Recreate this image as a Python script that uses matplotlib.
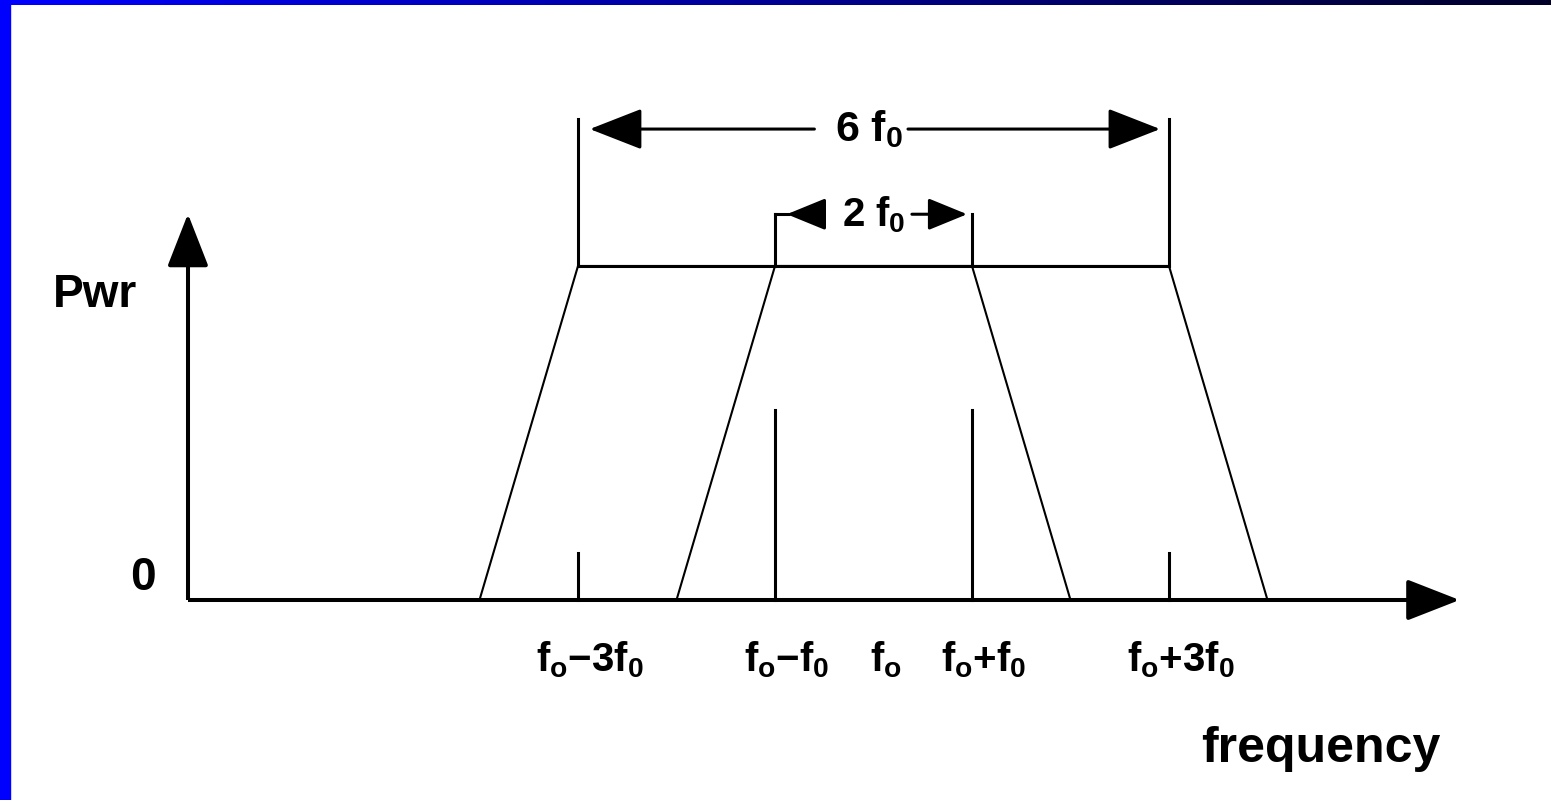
import numpy as np
import matplotlib
matplotlib.use("Agg")
import matplotlib.pyplot as plt

plt.rcParams['font.family'] = ['Liberation Sans', 'DejaVu Sans']
plt.rcParams['font.weight'] = 'bold'
plt.rcParams['mathtext.fontset'] = 'custom'
plt.rcParams['mathtext.rm'] = 'Liberation Sans:bold'
plt.rcParams['mathtext.it'] = 'Liberation Sans:bold'
plt.rcParams['mathtext.bf'] = 'Liberation Sans:bold'

# frequency in units of f0 relative to the carrier, power normalised to the plateau
outer_x = [-4, -3, 3, 4]
outer_y = [0, 1, 1, 0]
inner_x = [-2, -1, 1, 2]
inner_y = [0, 1, 1, 0]
tick_pos = [-3, -1, 0, 1, 3]
tick_height = [0.14, 0.57, 0.0, 0.57, 0.14]
tick_labels = [r'$f_o\mathregular{-}3f_0$', r'$f_o\mathregular{-}f_0$', r'$f_o$',
               r'$f_o\mathregular{+}f_0$', r'$f_o\mathregular{+}3f_0$']
wide_span = (-3, 3)
narrow_span = (-1, 1)
wide_label = r'6 $f_0$'
narrow_label = r'2 $f_0$'

W, H = 1551, 800
fig = plt.figure(figsize=(W / 100, H / 100), dpi=100)
ax = fig.add_axes([0, 0, 1, 1])
ax.set_xlim(-873.5 / 98.5, (W - 873.5) / 98.5)
ax.set_ylim(-200 / 334, 600 / 334)
ax.axis('off')

lw_axis = 2.9
lw_brk = 2.2
fs = 33

big_head = dict(arrowstyle='-|>,head_length=1.1,head_width=0.43',
                mutation_scale=30, color='k', lw=lw_axis, shrinkA=0, shrinkB=0)

# axes with arrows
x0, x_end = -6.96, 5.95
y_top = 1.156
ax.plot([x0, x_end - 0.3], [0, 0], color='k', lw=lw_axis, solid_capstyle='butt')
ax.plot([x0, x0], [0, y_top - 0.1], color='k', lw=lw_axis, solid_capstyle='butt')
ax.annotate('', xy=(x_end, 0), xytext=(x_end - 0.5, 0), arrowprops=big_head)
ax.annotate('', xy=(x0, y_top), xytext=(x0, y_top - 0.15), arrowprops=big_head)

# spectra
ax.plot(outer_x, outer_y, color='k', lw=1.5)
ax.plot(inner_x, inner_y, color='k', lw=1.5)
ax.plot([outer_x[1], outer_x[2]], [1, 1], color='k', lw=lw_brk)

# ticks
for p, h in zip(tick_pos, tick_height):
    if h > 0:
        ax.plot([p, p], [0, h], color='k', lw=lw_brk)

for p, lab in zip(tick_pos, tick_labels):
    ax.text(p + 0.12, -0.18, lab, ha='center', va='center', fontsize=fs - 4)

# brackets
y_wide = 1.41
y_narrow = 1.155
for xv in wide_span:
    ax.plot([xv, xv], [1, 1.44], color='k', lw=lw_brk)
for xv in narrow_span:
    ax.plot([xv, xv], [1, y_narrow], color='k', lw=lw_brk)
ax.plot([narrow_span[0], narrow_span[0] + 0.13], [y_narrow, y_narrow], color='k', lw=lw_brk)

wide_head = dict(big_head, lw=lw_brk)
ax.annotate('', xy=(wide_span[0] + 0.12, y_wide), xytext=(-0.6, y_wide), arrowprops=wide_head)
ax.annotate('', xy=(wide_span[1] - 0.09, y_wide), xytext=(0.35, y_wide), arrowprops=wide_head)

small_head = dict(arrowstyle='-|>,head_length=1.1,head_width=0.45',
                  mutation_scale=22, color='k', lw=lw_brk, shrinkA=0, shrinkB=0)
ax.annotate('', xy=(narrow_span[0] + 0.12, y_narrow), xytext=(-0.54, y_narrow), arrowprops=small_head)
ax.annotate('', xy=(narrow_span[1] - 0.05, y_narrow), xytext=(0.39, y_narrow), arrowprops=small_head)
ax.text(-0.05, y_wide, wide_label, ha='center', va='center', fontsize=fs - 2)
ax.text(0.0, y_narrow, narrow_label, ha='center', va='center', fontsize=fs - 4)

# axis captions
ax.text(x0 - 0.33, 0, '0', ha='right', va='bottom', fontsize=fs)
ax.text(x0 - 1.37, 0.913, 'Pwr', ha='left', va='center', fontsize=fs)
ax.text(5.75, -0.445, 'frequency', ha='right', va='center', fontsize=fs + 3)

# slide frame: blue left bar and gradient top bar
fig.patches.append(plt.Rectangle((0, 0), 10 / W, 1, transform=fig.transFigure,
                                 color='#0000ff', zorder=10))
top = fig.add_axes([0, 1 - 5 / H, 1, 5 / H])
grad = np.linspace(1.0, 0.16, 256)
img = np.zeros((1, 256, 3))
img[0, :, 2] = grad
top.imshow(img, aspect='auto', extent=[0, 1, 0, 1])
top.axis('off')

fig.savefig('out.png', dpi=100, facecolor='white')
